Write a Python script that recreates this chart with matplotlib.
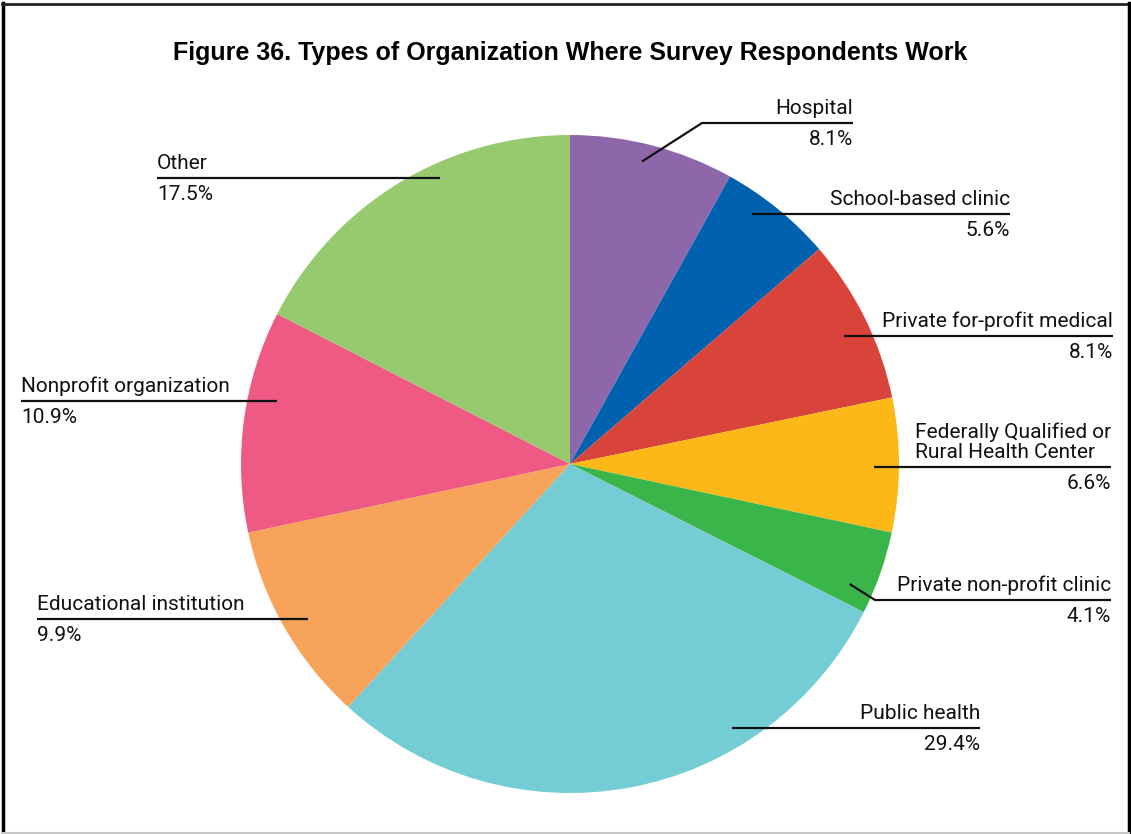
import numpy as np
import matplotlib
matplotlib.use("Agg")
import matplotlib.pyplot as plt
from matplotlib.lines import Line2D

# Survey data: organization types and share of respondents (%)
categories = [
    "Hospital",
    "School-based clinic",
    "Private for-profit medical",
    "Federally Qualified or\nRural Health Center",
    "Private non-profit clinic",
    "Public health",
    "Educational institution",
    "Nonprofit organization",
    "Other",
]
shares = [8.1, 5.6, 8.1, 6.6, 4.1, 29.4, 9.9, 10.9, 17.5]
colors = ["#8E67AB", "#0061AE", "#D9443A", "#FBB817", "#3AB54A",
          "#74CDD5", "#F8A35A", "#EE5A84", "#97CA6E"]

title = "Figure 36. Types of Organization Where Survey Respondents Work"

W, H = 1131, 834
fig = plt.figure(figsize=(W / 100, H / 100), dpi=100)
ax = fig.add_axes([0, 0, 1, 1])

# Pie geometry (pixel-like data units, y pointing up)
cx, cy, R = 570, H - 464, 329
wedges, _ = ax.pie(shares, colors=colors, startangle=90, counterclock=False,
                   center=(cx, cy), radius=R, frame=True,
                   wedgeprops=dict(linewidth=0))
ax.set_xlim(0, W)
ax.set_ylim(0, H)
ax.set_aspect("equal")
ax.set_axis_off()

# Label layout: side, text edge x, where in the wedge the leader starts
# (fraction across wedge, fraction of radius), optional elbow (x, y from top)
layout = [
    dict(side="r", x=853, frac=0.46, rf=0.945, elbow=(702, 123)),
    dict(side="r", x=1010, frac=0.34, rf=0.94, elbow=None),
    dict(side="r", x=1113, frac=0.54, rf=0.92, elbow=None),
    dict(side="r", x=1111, frac=0.52, rf=0.925, elbow=None),
    dict(side="r", x=1111, frac=0.76, rf=0.925, elbow=(875, 600)),
    dict(side="r", x=980, frac=0.30, rf=0.94, elbow=None),
    dict(side="l", x=37, frac=0.48, rf=0.925, elbow=None),
    dict(side="l", x=21, frac=0.62, rf=0.91, elbow=None),
    dict(side="l", x=157, frac=0.61, rf=0.955, elbow=None),
]

label_font = dict(family=["Roboto", "DejaVu Sans"], fontsize=15, color="#111111")

for w, cat, val, lay in zip(wedges, categories, shares, layout):
    # wedge angles in matplotlib convention (counter-clockwise from +x)
    t1, t2 = w.theta1, w.theta2
    ang = np.deg2rad(t2 - lay["frac"] * (t2 - t1))
    ax_x = cx + lay["rf"] * R * np.cos(ang)
    ax_y = cy + lay["rf"] * R * np.sin(ang)
    if lay["elbow"] is not None:
        ex, ey = lay["elbow"][0], H - lay["elbow"][1]
        xs = [ax_x, ex, lay["x"]]
        ys = [ax_y, ey, ey]
        line_y = ey
    else:
        line_y = ax_y
        xs = [ax_x, lay["x"]]
        ys = [ax_y, ax_y]
    ax.add_line(Line2D(xs, ys, color="#111111", linewidth=1.6,
                       solid_capstyle="butt"))
    ha = "right" if lay["side"] == "r" else "left"
    ax.text(lay["x"], line_y + 5, cat, ha=ha, va="bottom",
            multialignment="left", linespacing=1.1, **label_font)
    ax.text(lay["x"], line_y - 7, f"{val:.1f}%", ha=ha, va="top",
            **label_font)

ax.text(570, H - 53, title, ha="center", va="center",
        family=["Liberation Sans", "DejaVu Sans"], fontweight="bold",
        fontsize=18, color="black")

# Figure frame
ax.add_line(Line2D([3, 3], [1, H - 3], color="black", linewidth=2.5))
ax.add_line(Line2D([2, W - 1], [H - 4, H - 4], color="#222222", linewidth=2))
ax.add_line(Line2D([W - 2, W - 2], [1, H - 3], color="black", linewidth=2.5))
ax.add_line(Line2D([2, W - 2], [1, 1], color="#C8C8C8", linewidth=1.5))

fig.savefig("out.png", dpi=100, facecolor="white")
